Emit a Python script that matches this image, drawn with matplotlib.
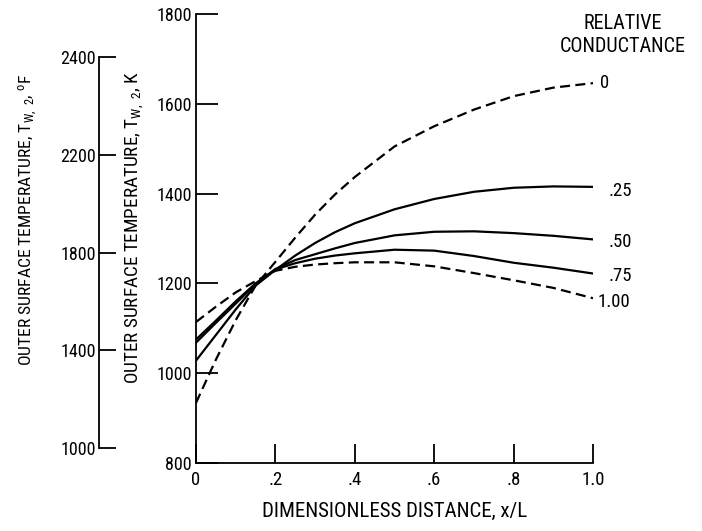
import matplotlib
matplotlib.use("Agg")
import matplotlib.pyplot as plt
from matplotlib import font_manager

# distance along x/L and wall temperature (K) for each relative conductance
x_dist = [0, 0.05, 0.1, 0.15, 0.2, 0.25, 0.3, 0.35, 0.4, 0.5, 0.6, 0.7, 0.8, 0.9, 1.0]
temp_g000 = [934, 1030, 1118, 1195, 1248, 1302, 1353, 1398, 1437, 1505, 1550, 1587, 1617, 1636, 1646]
temp_g025 = [1028, 1085, 1142, 1195, 1230, 1262, 1290, 1314, 1334, 1365, 1388, 1404, 1413, 1416, 1415]
temp_g050 = [1068, 1112, 1155, 1198, 1232, 1252, 1265, 1278, 1290, 1307, 1315, 1316, 1312, 1306, 1298]
temp_g075 = [1075, 1117, 1160, 1200, 1231, 1245, 1255, 1262, 1267, 1275, 1273, 1261, 1246, 1235, 1222]
temp_g100 = [1114, 1148, 1180, 1205, 1228, 1237, 1242, 1245, 1247, 1247, 1238, 1223, 1207, 1190, 1167]

curves = [temp_g000, temp_g025, temp_g050, temp_g075, temp_g100]
curve_labels = ["0", ".25", ".50", ".75", "1.00"]
curve_dashed = [True, False, False, False, True]
label_dx = [5, 11, 11, 11, 3]   # pts right of the line end
label_dy = [0, -3, -2, -2, -3]

x_ticks = [0, 0.2, 0.4, 0.6, 0.8, 1.0]
x_tick_labels = ["0", ".2", ".4", ".6", ".8", "1.0"]
k_ticks = [800, 1000, 1200, 1400, 1600, 1800]
f_ticks = [1000, 1400, 1800, 2200, 2600]
f_tick_labels = ["1000", "1400", "1800", "2200", "2400"]

avail = {f.name for f in font_manager.fontManager.ttflist}
narrow = next((n for n in ["Liberation Sans Narrow", "Roboto Condensed",
                           "DejaVu Sans Condensed", "Open Sans Condensed"]
               if n in avail), "DejaVu Sans")
plt.rcParams["font.family"] = [narrow, "DejaVu Sans"]

W, H = 702, 531
fig = plt.figure(figsize=(W / 100, H / 100), dpi=100)

# main axis in K
ax = fig.add_axes([196 / W, 1 - 463 / H, 397 / W, 449 / H])
ax.set_xlim(0, 1.0)
ax.set_ylim(800, 1800)
for s in ["top", "right"]:
    ax.spines[s].set_visible(False)
for s in ["left", "bottom"]:
    ax.spines[s].set_linewidth(1.3)
ax.set_xticks(x_ticks, x_tick_labels)
ax.set_yticks(k_ticks)
ax.tick_params(axis="x", direction="in", length=14, width=1.3, pad=6, labelsize=13.5)
ax.tick_params(axis="y", direction="in", length=16, width=1.3, pad=3, labelsize=13)
ax.patch.set_visible(False)

for temps, lab, dashed, dx, dy in zip(curves, curve_labels, curve_dashed, label_dx, label_dy):
    ln, = ax.plot(x_dist, temps, color="black", lw=1.6, solid_capstyle="round")
    if dashed:
        ln.set_dashes((4.5, 2.4))
    ax.annotate(lab, xy=(x_dist[-1], temps[-1]), xytext=(dx, dy),
                textcoords="offset points", ha="left", va="center", fontsize=13.5,
                annotation_clip=False)

ax.set_xlabel("DIMENSIONLESS DISTANCE, x/L", fontsize=15, labelpad=9)

# secondary axis in F
axf = fig.add_axes([99 / W, 1 - 448 / H, 0.001, 391 / H])
axf.set_ylim(1000, 2600)
for s in ["top", "right", "bottom"]:
    axf.spines[s].set_visible(False)
axf.spines["left"].set_linewidth(1.3)
axf.set_xticks([])
axf.set_yticks(f_ticks, f_tick_labels)
axf.tick_params(axis="y", direction="in", length=12, width=1.3, pad=2, labelsize=13)
axf.patch.set_visible(False)

fig.text(135 / W, 1 - 227 / H, r"OUTER SURFACE TEMPERATURE, T$\mathregular{_{W,\ 2}}$, K",
         rotation=90, ha="center", va="center", fontsize=13.8)
fig.text(28 / W, 1 - 220 / H, r"OUTER SURFACE TEMPERATURE, T$\mathregular{_{W,\ 2}}$, $\mathregular{^{o}}$F",
         rotation=90, ha="center", va="center", fontsize=12.6)
fig.text(623 / W, 1 - 35 / H, "RELATIVE\nCONDUCTANCE", ha="center", va="center",
         fontsize=14.5, linespacing=1.3)

fig.savefig("out.png", dpi=100)
